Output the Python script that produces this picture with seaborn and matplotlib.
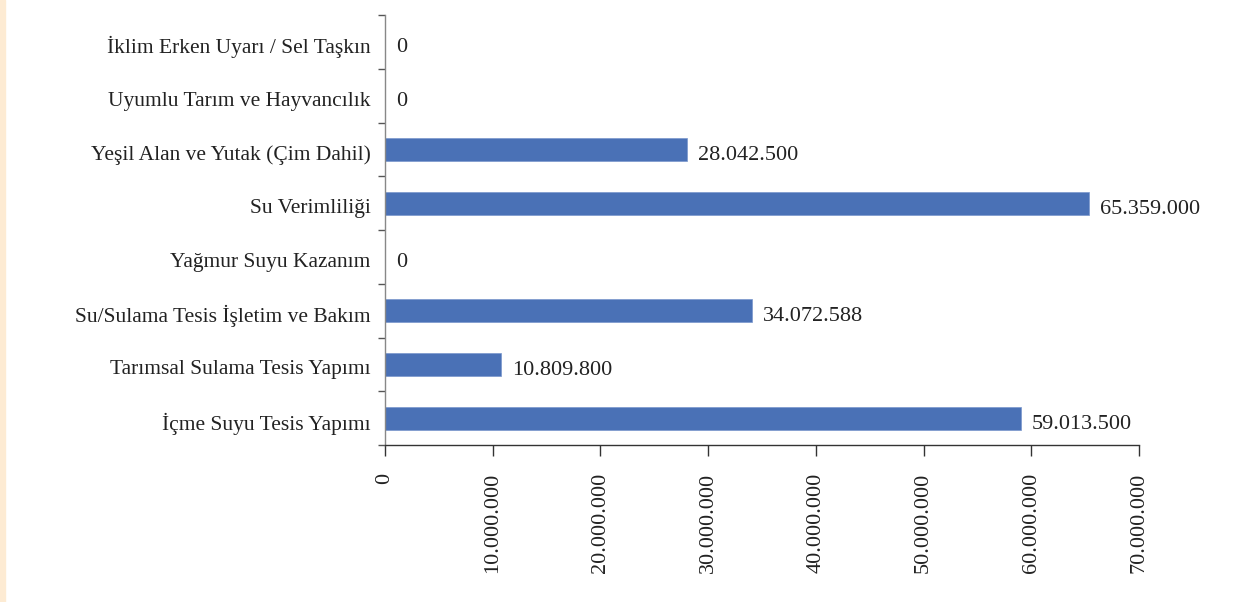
import numpy as np
import pandas as pd
import matplotlib
matplotlib.use('Agg')
import matplotlib.pyplot as plt
import matplotlib.transforms as mtransforms
import seaborn as sns
from matplotlib.patches import Rectangle

# Data
categories = ['İklim Erken Uyarı / Sel Taşkın', 'Uyumlu Tarım ve Hayvancılık',
              'Yeşil Alan ve Yutak (Çim Dahil)', 'Su Verimliliği',
              'Yağmur Suyu Kazanım', 'Su/Sulama Tesis İşletim ve Bakım',
              'Tarımsal Sulama Tesis Yapımı', 'İçme Suyu Tesis Yapımı']
values = [0, 0, 28042500, 65359000, 0, 34072588, 10809800, 59013500]
value_labels = ['0', '0', '28.042.500', '65.359.000', '0', '34.072.588',
                '10.809.800', '59.013.500']
xticks = [0, 10000000, 20000000, 30000000, 40000000, 50000000, 60000000, 70000000]
xtick_labels = ['0', '10.000.000', '20.000.000', '30.000.000', '40.000.000',
                '50.000.000', '60.000.000', '70.000.000']

df = pd.DataFrame({'kategori': categories, 'tutar': values})

sns.set_style('white')
plt.rcParams['font.family'] = ['Liberation Serif', 'DejaVu Serif']

fig = plt.figure(figsize=(12.51, 6.02), dpi=100)
# orange strip on the left edge
fig.patches.append(Rectangle((0, 0), 5 / 1251, 1, transform=fig.transFigure,
                             color='#FDEBD3', zorder=0))
ax = fig.add_axes([385 / 1251, 1 - 445 / 602, (1139 - 385) / 1251, (445 - 15) / 602])

sns.barplot(data=df, x='tutar', y='kategori', order=categories, color='#4A71B6',
            width=0.43, saturation=1, ax=ax, edgecolor='#7A96CC', linewidth=0.5)

ax.set_xlim(0, 70000000)
ax.set_ylim(7.5, -0.5)
ax.set_xlabel('')
ax.set_ylabel('')
ax.set_xticks(xticks)
ax.set_xticklabels(xtick_labels, rotation=90, fontsize=16, color='#222222')
ax.set_yticks(range(len(categories)))
ax.set_yticklabels(categories, fontsize=15.5, color='#222222')
ax.set_yticks(np.arange(-0.5, len(categories), 1), minor=True)
ax.tick_params(axis='y', which='major', left=True, length=0, pad=10.5)
ax.tick_params(axis='y', which='minor', left=True, length=5, width=1,
               color='#555555', direction='out')
ax.tick_params(axis='x', bottom=True, length=8, width=1, color='#333333',
               direction='out', pad=12)

# category labels sit a little below the band centre in the original
shift = mtransforms.ScaledTranslation(0, -3 / 100, fig.dpi_scale_trans)
for lab in ax.get_yticklabels():
    lab.set_transform(lab.get_transform() + shift)

for s in ['top', 'right']:
    ax.spines[s].set_visible(False)
ax.spines['left'].set_color('#888888')
ax.spines['bottom'].set_color('#333333')
ax.spines['left'].set_linewidth(1)
ax.spines['bottom'].set_linewidth(1)

for i, (v, lab) in enumerate(zip(values, value_labels)):
    ax.annotate(lab, xy=(v, i), xytext=(11, -6), textcoords='offset pixels',
                va='center', ha='left', fontsize=16, color='#222222')

fig.savefig('out.png', dpi=100)
